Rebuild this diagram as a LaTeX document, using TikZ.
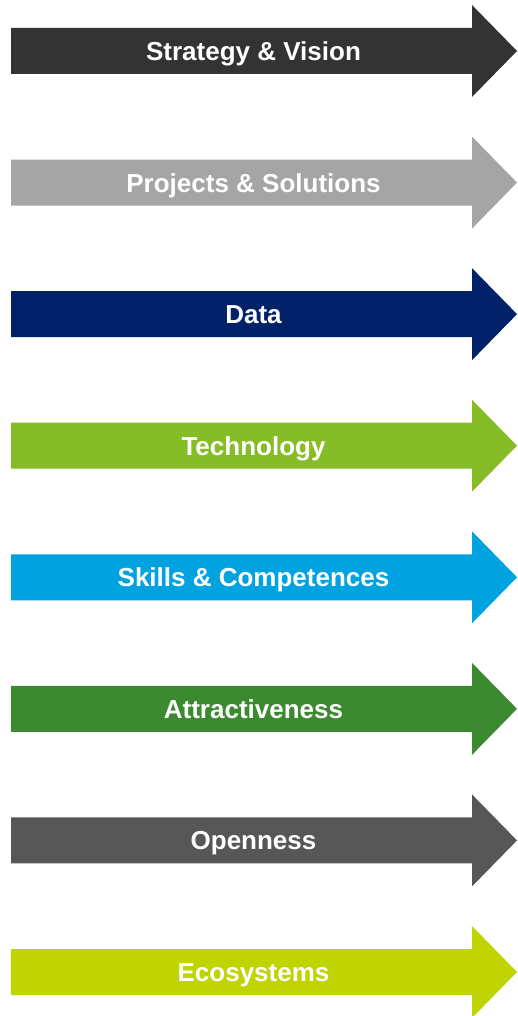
\documentclass[tikz,border=0pt]{standalone}
\usepackage{fontspec}
\setmainfont{Liberation Sans}
\usepackage{xcolor}
\usepackage{tikz}
\usetikzlibrary{positioning}

\definecolor{strat}{HTML}{333333}
\definecolor{proj}{HTML}{A5A5A5}
\definecolor{datac}{HTML}{012169}
\definecolor{tech}{HTML}{86BC25}
\definecolor{skill}{HTML}{00A3E0}
\definecolor{attr}{HTML}{3B8A2F}
\definecolor{open}{HTML}{575757}
\definecolor{eco}{HTML}{BFD400}

\begin{document}
\begin{tikzpicture}[
  x=1pt, y=-1pt,
  band/.style={draw=none},
  lab/.style={text=white, font=\bfseries\fontsize{26}{30}\selectfont, anchor=base, inner sep=0pt}
]
\useasboundingbox (0,0) rectangle (518,1016);
\foreach \i/\col/\txt in {0/strat/Strategy \& Vision,1/proj/Projects \& Solutions,2/datac/Data,3/tech/Technology,4/skill/Skills \& Competences,5/attr/Attractiveness,6/open/Openness,7/eco/Ecosystems} {
  \pgfmathsetmacro{\yc}{51+131.57*\i}
  \fill[band, fill=\col] (11,\yc-23) -- (472,\yc-23) -- (472,\yc-46) -- (517,\yc)
    -- (472,\yc+46) -- (472,\yc+23) -- (11,\yc+23) -- cycle;
  \node[lab] (lab\i) at (253.5,\yc+9.5) {\txt};
}
\end{tikzpicture}
\end{document}
